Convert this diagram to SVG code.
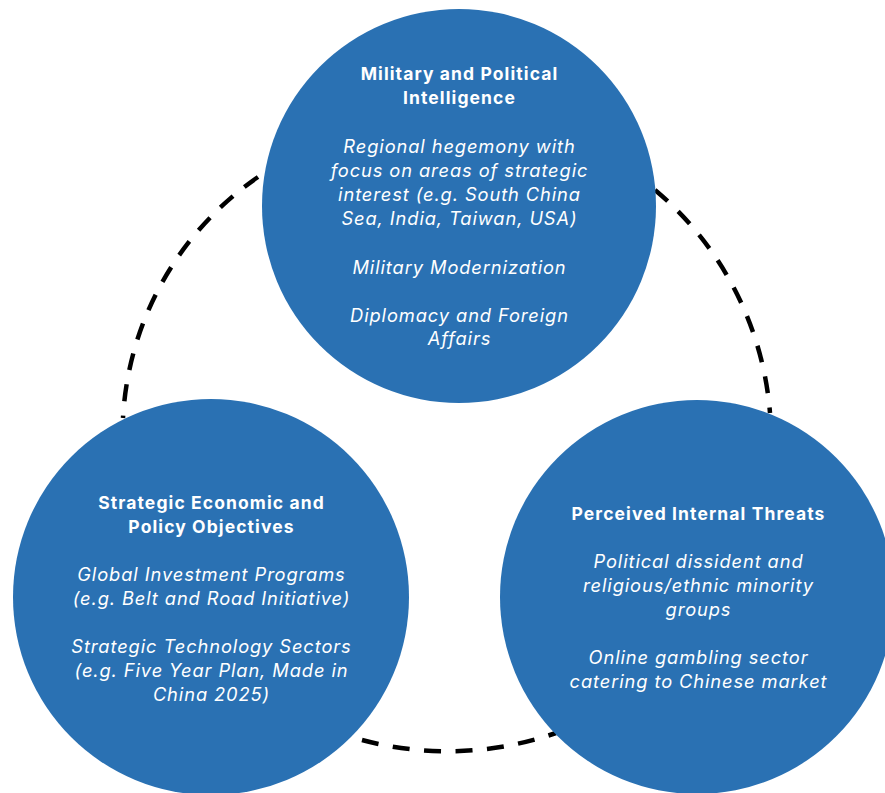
<svg xmlns="http://www.w3.org/2000/svg" width="885" height="793" viewBox="0 0 885 793">
<style>
.node{fill:#2a71b3}
.t{font-family:Inter,"Noto Sans","Liberation Sans",sans-serif;font-size:18.3px;fill:#ffffff;text-anchor:middle}
.b{font-weight:700;font-size:17.5px;letter-spacing:1.1px}
.i{font-style:italic;letter-spacing:0.9px}
.dash{fill:none;stroke:#000;stroke-width:4.5;stroke-dasharray:17 14.5}
</style>
<rect width="885" height="793" fill="#ffffff"/>
<g id="connectors">
<path class="dash" d="M 258 177 A 313 313 0 0 0 123 418"/>
<path class="dash" d="M 655 190 A 324.5 324.5 0 0 1 770 413"/>
<path class="dash" d="M 362 740 A 331 331 0 0 0 556 733"/>
</g>
<g id="military">
<circle class="node" cx="459" cy="206" r="197"/>
<text class="t b" x="459.5" y="80">Military and Political</text>
<text class="t b" x="459.5" y="104.2">Intelligence</text>
<text class="t i" x="459.5" y="152.6">Regional hegemony with</text>
<text class="t i" x="459.5" y="176.8">focus on areas of strategic</text>
<text class="t i" x="459.5" y="201">interest (e.g. South China</text>
<text class="t i" x="459.5" y="225.2">Sea, India, Taiwan, USA)</text>
<text class="t i" x="459.5" y="273.6">Military Modernization</text>
<text class="t i" x="459.5" y="321.5">Diplomacy and Foreign</text>
<text class="t i" x="459.5" y="345.2">Affairs</text>
</g>
<g id="economic">
<circle class="node" cx="211" cy="597" r="198"/>
<text class="t b" x="211.5" y="508.5">Strategic Economic and</text>
<text class="t b" x="211.5" y="532.5">Policy Objectives</text>
<text class="t i" x="211.5" y="580.5">Global Investment Programs</text>
<text class="t i" x="211.5" y="604.5">(e.g. Belt and Road Initiative)</text>
<text class="t i" x="211.5" y="652.5">Strategic Technology Sectors</text>
<text class="t i" x="211.5" y="676.5">(e.g. Five Year Plan, Made in</text>
<text class="t i" x="211.5" y="700.5">China 2025)</text>
</g>
<g id="internal">
<circle class="node" cx="697" cy="597" r="197"/>
<text class="t b" x="698.5" y="520">Perceived Internal Threats</text>
<text class="t i" x="698.5" y="568">Political dissident and</text>
<text class="t i" x="698.5" y="592">religious/ethnic minority</text>
<text class="t i" x="698.5" y="616">groups</text>
<text class="t i" x="698.5" y="664">Online gambling sector</text>
<text class="t i" x="698.5" y="688">catering to Chinese market</text>
</g>
</svg>
